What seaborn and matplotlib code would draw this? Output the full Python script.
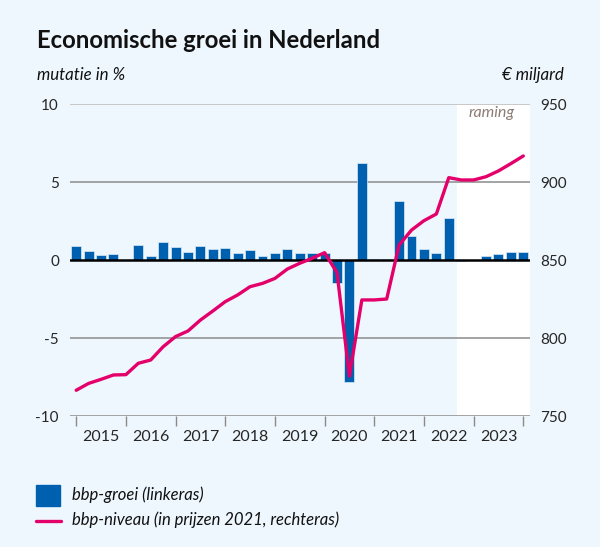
import matplotlib
matplotlib.use("Agg")
import matplotlib.pyplot as plt
import seaborn as sns
import pandas as pd
import numpy as np

# ---- data -------------------------------------------------------------
years = ["2015", "2016", "2017", "2018", "2019", "2020", "2021", "2022", "2023"]
groei = [0.92, 0.60, 0.32, 0.36, 0.00, 0.94, 0.26, 1.13, 0.81, 0.49,
         0.88, 0.70, 0.77, 0.47, 0.66, 0.28, 0.43, 0.70, 0.43, 0.43,
         0.43, -1.45, -7.85, 6.24, 0.05, 0.05, 3.78, 1.54, 0.70, 0.47,
         2.67, -0.05, 0.00, 0.26, 0.41, 0.51, 0.51]
niveau = [766.5, 770.9, 773.5, 776.3, 776.5, 783.8, 785.9, 794.4, 800.9, 804.5,
          811.5, 817.3, 823.3, 827.6, 832.9, 835.0, 838.2, 844.2, 847.9, 851.1,
          854.7, 841.9, 775.6, 824.4, 824.4, 825.0, 859.6, 869.2, 875.2, 879.5,
          902.8, 901.3, 901.3, 903.4, 907.1, 911.8, 916.7]
left_ticks = [-10, -5, 0, 5, 10]
right_ticks = [750, 800, 850, 900, 950]
raming_start = 30.7

BG = "#EEF7FE"
BLUE = "#0060B0"
PINK = "#E4006A"

sns.set_style("white")
plt.rcParams["font.family"] = ["Lato", "DejaVu Sans"]

df = pd.DataFrame({"q": np.arange(len(groei)), "groei": groei, "niveau": niveau})

fig = plt.figure(figsize=(6.0, 5.47), dpi=100, facecolor=BG)
ax = fig.add_axes([70 / 600, 1 - 416 / 547, 459.5 / 600, 312 / 547])
ax.set_facecolor(BG)

sns.barplot(data=df, x="q", y="groei", color=BLUE, width=0.8, saturation=1,
            edgecolor="#dbe9f7", linewidth=0.5, ax=ax, zorder=3)
ax.set_xlim(-0.5, len(groei) - 0.5)
ax.set_ylim(left_ticks[0], left_ticks[-1])

# forecast area
ax.axvspan(raming_start, len(groei) - 0.5, color="white", zorder=0, lw=0)
ax.text(35.33, 9.45, "raming", ha="right", va="center",
        fontsize=11.5, style="italic", color="#8c7c76", zorder=5)

# gridlines
for v in left_ticks:
    if v == 0:
        ax.axhline(v, color="black", lw=1.8, zorder=4)
    elif v == 10:
        ax.axhline(v, color="#c4c4c4", lw=1.3, zorder=1)
    else:
        ax.axhline(v, color="#9c9c9c", lw=1.3, zorder=1)

for s in ax.spines.values():
    s.set_visible(False)

# x ticks at year boundaries, labels centered in years
ax.set_xticks(np.arange(0, len(groei), 4))
ax.set_xticklabels([])
ax.set_xticks(np.arange(2, len(groei) - 1, 4), minor=True)
ax.set_xticklabels(years, minor=True)
ax.tick_params(axis="x", which="major", bottom=True, length=7, width=1,
               color="#8a8a8a", direction="out")
ax.tick_params(axis="x", which="minor", bottom=True, length=0, pad=10, labelsize=11.5)
ax.set_xlabel("")
ax.set_ylabel("")

ax.set_yticks(left_ticks)
ax.set_yticklabels([str(t) for t in left_ticks])
ax.tick_params(axis="y", length=0, pad=8, labelsize=11)

# right axis with level
ax2 = ax.twinx()
sns.lineplot(data=df, x="q", y="niveau", color=PINK, lw=2.4, ax=ax2, zorder=6)
ax2.set_ylim(right_ticks[0], right_ticks[-1])
ax2.set_yticks(right_ticks)
ax2.tick_params(axis="y", length=0, pad=8, labelsize=11)
ax2.set_ylabel("")
for s in ax2.spines.values():
    s.set_visible(False)
ax2.set_xlim(-0.5, len(groei) - 0.5)

# titles
fig.text(37 / 600, 1 - 40 / 547, "Economische groei in Nederland", fontsize=17.2,
         fontweight="bold", ha="left", va="center", color="#111111")
fig.text(37 / 600, 1 - 75 / 547, "mutatie in %", fontsize=12.2, style="italic",
         ha="left", va="center", color="#111111")
fig.text(564 / 600, 1 - 75 / 547, "€ miljard", fontsize=12.2, style="italic",
         ha="right", va="center", color="#111111")

# legend
fig.patches.append(plt.Rectangle((36 / 600, 1 - 506 / 547), 24 / 600, 21 / 547,
                                 transform=fig.transFigure, color=BLUE, figure=fig))
fig.lines.append(plt.Line2D([36 / 600, 61 / 600], [1 - 520.5 / 547] * 2,
                            transform=fig.transFigure, color=PINK, lw=2.4, figure=fig))
fig.text(72 / 600, 1 - 495 / 547, "bbp-groei (linkeras)", fontsize=12,
         style="italic", ha="left", va="center", color="#111111")
fig.text(72 / 600, 1 - 520 / 547, "bbp-niveau (in prijzen 2021, rechteras)", fontsize=12,
         style="italic", ha="left", va="center", color="#111111")

fig.savefig("out.png", dpi=100, facecolor=BG)
